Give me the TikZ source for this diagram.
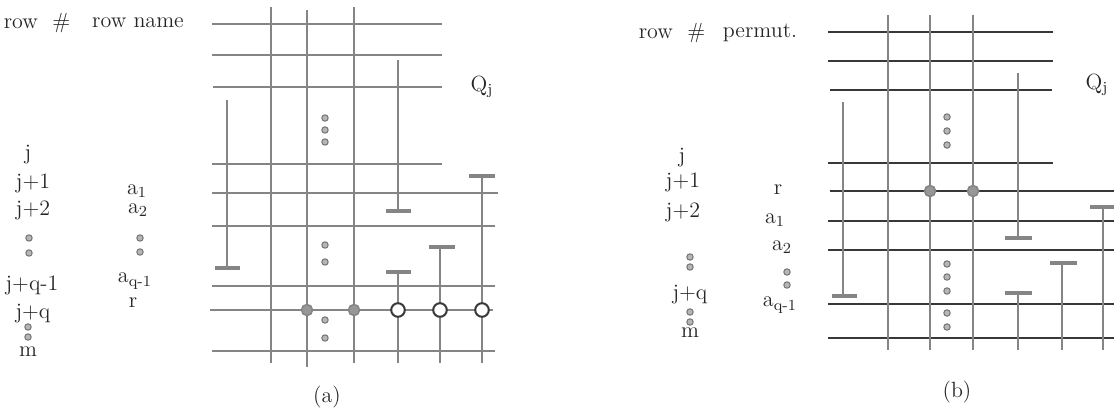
\documentclass[tikz,border=0pt]{standalone}
\usepackage{tikz}
\definecolor{wire}{gray}{0.52}
\definecolor{darkwire}{gray}{0.22}
\tikzset{
  baseline = (current bounding box.center),
}

\begin{document}
\begin{tikzpicture}[
      x=0.5pt,y=-0.5pt,
      font=\fontsize{11}{13}\selectfont,
      row/.style={line width=1pt,wire},
      rowb/.style={line width=1pt,darkwire},
      col/.style={line width=0.9pt,wire},
      bar/.style={line width=1.6pt,wire},
      piv/.style={circle,draw=wire,fill=wire!85,line width=0.8pt,inner sep=0pt,minimum size=5.5pt},
      hole/.style={circle,draw=darkwire,fill=white,line width=1pt,inner sep=0pt,minimum size=6.8pt},
      vdot/.style={circle,draw=black!55,fill=wire!60,line width=0.5pt,inner sep=0pt,minimum size=3.2pt},
      lbl/.style={inner sep=0pt,text=black!85}
      ]
      \useasboundingbox (0,0) rectangle (1114,413);
      % left panel: rows
      \draw[row] (212,24) -- (442,24);
      \draw[row] (212,55) -- (442,55);
      \draw[row] (213,87) -- (442,87);
      \draw[row] (212,164) -- (442,164);
      \draw[row] (212,193) -- (498,193);
      \draw[row] (212,226) -- (495,226);
      \draw[row] (212,286) -- (495,286);
      \draw[row] (210,310) -- (493,310);
      \draw[row] (212,351) -- (495,351);
      % left panel: columns
      \draw[col] (271,7) -- (271,363);
      \draw[col] (307,10) -- (307,367);
      \draw[col] (354,7) -- (354,363);
      \draw[col] (227,100) -- (227,268);
      \draw[bar] (215,268) -- (240,268);
      \draw[col] (398,60) -- (398,211);
      \draw[bar] (386,211) -- (411,211);
      \draw[col] (398,272) -- (398,363);
      \draw[bar] (386,272) -- (411,272);
      \draw[col] (440,247) -- (440,363);
      \draw[bar] (429,247) -- (455,247);
      \draw[col] (482,176) -- (482,363);
      \draw[bar] (469,176) -- (495,176);
      \node[piv] (pa1) at (307,310) {};
      \node[piv] (pa2) at (354,310) {};
      \node[hole] (ha1) at (398,310) {};
      \node[hole] (ha2) at (440,310) {};
      \node[hole] (ha3) at (482,310) {};
      \node[vdot] (da1) at (325,118) {};
      \node[vdot] (da2) at (325,130) {};
      \node[vdot] (da3) at (325,142) {};
      \node[vdot] (da4) at (325,245) {};
      \node[vdot] (da5) at (325,262) {};
      \node[vdot] (da6) at (325,320) {};
      \node[vdot] (da7) at (325,338) {};
      \node[lbl] (qa) at (482,87) {Q\textsubscript{j}};
      \node[lbl] (capa) at (327,397) {(a)};
      % left panel: row numbers and names
      \node[lbl] (hrowa) at (37,23) {row\ \ \#};
      \node[lbl] (hnamea) at (138,23) {row name};
      \node[lbl] (ja0) at (28,155) {j};
      \node[lbl] (ja1) at (33,183) {j+1};
      \node[lbl] (ja2) at (33,210) {j+2};
      \node[vdot] (jda1) at (29,238) {};
      \node[vdot] (jda2) at (29,253) {};
      \node[lbl] (jaq1) at (32,285) {j+q-1};
      \node[lbl] (jaq) at (33,314) {j+q};
      \node[vdot] (jda3) at (28,327) {};
      \node[vdot] (jda4) at (28,337) {};
      \node[lbl] (jam) at (28,352) {m};
      \node[lbl] (na1) at (137,191) {a\textsubscript{1}};
      \node[lbl] (na2) at (138,210) {a\textsubscript{2}};
      \node[vdot] (nda1) at (140,238) {};
      \node[vdot] (nda2) at (140,252) {};
      \node[lbl] (naq) at (135,281) {a\textsubscript{q-1}};
      \node[lbl] (nar) at (133,303) {r};
      % right panel: rows
      \draw[rowb] (828,32) -- (1053,32);
      \draw[rowb] (828,61) -- (1053,61);
      \draw[rowb] (830,90) -- (1052,90);
      \draw[rowb] (828,163) -- (1053,163);
      \draw[rowb] (830,191) -- (1114,191);
      \draw[rowb] (828,221) -- (1114,221);
      \draw[rowb] (828,250) -- (1114,250);
      \draw[rowb] (828,304) -- (1114,304);
      \draw[rowb] (828,338) -- (1114,338);
      % right panel: columns
      \draw[col] (888,15) -- (888,350);
      \draw[col] (930,15) -- (930,350);
      \draw[col] (973,15) -- (973,350);
      \draw[col] (843,102) -- (843,296);
      \draw[bar] (832,296) -- (857,296);
      \draw[col] (1018,73) -- (1018,238);
      \draw[bar] (1005,238) -- (1032,238);
      \draw[col] (1018,293) -- (1018,350);
      \draw[bar] (1005,293) -- (1032,293);
      \draw[col] (1062,263) -- (1062,350);
      \draw[bar] (1050,263) -- (1077,263);
      \draw[col] (1103,207) -- (1103,350);
      \draw[bar] (1090,207) -- (1114,207);
      \node[piv] (pb1) at (930,191) {};
      \node[piv] (pb2) at (973,191) {};
      \node[vdot] (db1) at (947,117) {};
      \node[vdot] (db2) at (947,131) {};
      \node[vdot] (db3) at (947,145) {};
      \node[vdot] (db4) at (947,264) {};
      \node[vdot] (db5) at (947,277) {};
      \node[vdot] (db6) at (947,291) {};
      \node[vdot] (db7) at (947,313) {};
      \node[vdot] (db8) at (947,327) {};
      \node[lbl] (qb) at (1097,85) {Q\textsubscript{j}};
      \node[lbl] (capb) at (957,392) {(b)};
      % right panel: row numbers and permutation
      \node[lbl] (hrowb) at (672,33) {row\ \ \#};
      \node[lbl] (hpermb) at (760,33) {permut.};
      \node[lbl] (jb0) at (682,158) {j};
      \node[lbl] (jb1) at (683,182) {j+1};
      \node[lbl] (jb2) at (683,212) {j+2};
      \node[vdot] (jdb1) at (690,257) {};
      \node[vdot] (jdb2) at (690,267) {};
      \node[lbl] (jbq) at (690,295) {j+q};
      \node[vdot] (jdb3) at (690,312) {};
      \node[vdot] (jdb4) at (690,322) {};
      \node[lbl] (jbm) at (690,333) {m};
      \node[lbl] (nbr) at (778,190) {r};
      \node[lbl] (nb1) at (775,220) {a\textsubscript{1}};
      \node[lbl] (nb2) at (782,247) {a\textsubscript{2}};
      \node[vdot] (ndb1) at (787,272) {};
      \node[vdot] (ndb2) at (787,285) {};
      \node[lbl] (nbq) at (780,305) {a\textsubscript{q-1}};
    \end{tikzpicture}
\end{document}
